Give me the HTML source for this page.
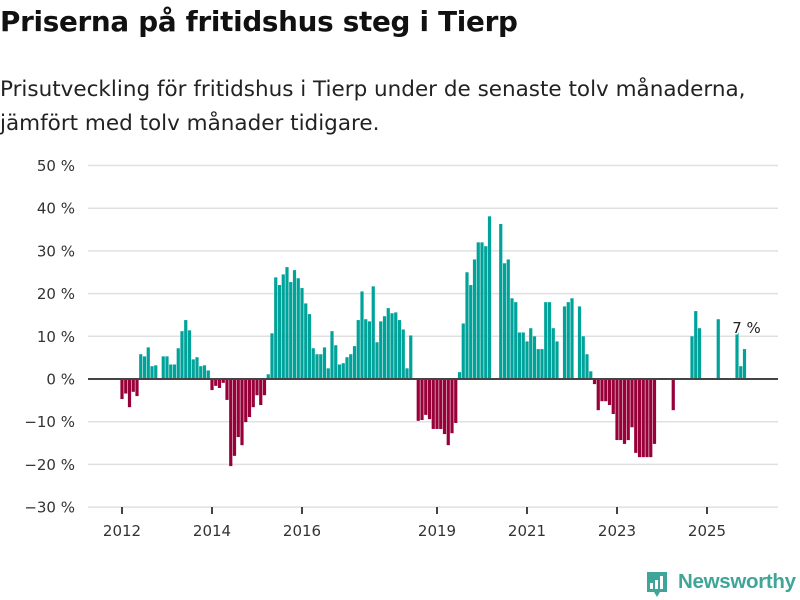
<!DOCTYPE html>
<html><head><meta charset="utf-8"><style>
body{margin:0;background:#fff;font-family:"DejaVu Sans","Liberation Sans",sans-serif;}
#wrap{position:relative;width:800px;height:600px;overflow:hidden;}
h1{position:absolute;left:0;top:5px;margin:0;font-size:27.8px;font-weight:bold;color:#111;letter-spacing:-0.3px}
p{position:absolute;left:0;top:73px;margin:0;font-size:21.5px;line-height:34px;color:#222}
</style></head><body>
<div id="wrap">
<h1>Priserna på fritidshus steg i Tierp</h1>
<p>Prisutveckling för fritidshus i Tierp under de senaste tolv månaderna,<br>jämfört med tolv månader tidigare.</p>
<svg id="chart" width="800" height="600" style="position:absolute;left:0;top:0"></svg>
</div>
<script>
const values=[-4.7,-3.4,-6.6,-3.0,-4.0,5.8,5.3,7.4,3.0,3.2,null,5.3,
5.3,3.4,3.4,7.2,11.2,13.8,11.4,4.6,5.1,3.0,3.2,2.0,
-2.6,-1.6,-2.1,-0.9,-4.9,-20.4,-18.0,-13.6,-15.5,-10.1,-8.9,-6.6,
-3.8,-6.1,-3.8,1.1,10.7,23.8,22.0,24.5,26.2,22.7,25.5,23.6,
21.3,17.7,15.2,7.2,5.8,5.8,7.4,2.5,11.2,7.9,3.4,3.7,
5.1,5.8,7.7,13.8,20.5,14.0,13.5,21.7,8.6,13.5,14.7,16.6,
15.4,15.6,13.8,11.6,2.5,10.2,null,-9.8,-9.6,-8.4,-9.4,-11.7,
-11.7,-11.7,-12.9,-15.5,-12.7,-10.3,1.6,13.0,25.0,22.0,28.0,32.0,
32.0,31.1,38.1,null,null,36.3,27.1,28.0,18.9,18.0,10.9,10.9,
8.8,11.9,10.0,7.0,7.0,18.0,18.0,11.9,8.8,null,17.0,18.0,
18.9,null,17.0,10.0,5.8,1.8,-1.2,-7.3,-5.2,-5.2,-6.1,-8.2,
-14.3,-14.3,-15.2,-14.3,-11.3,-17.3,-18.3,-18.3,-18.3,-18.3,-15.2,null,
null,null,null,-7.3,null,null,null,null,10.0,15.9,11.9,null,
null,null,null,14.0,null,null,null,null,10.9,3.0,7.0];
const startYear=2012;
const yTicks=[50,40,30,20,10,0,-10,-20,-30];
const xTickYears=[2012,2014,2016,2019,2021,2023,2025];
const lastLabel="7 %";
const NS="http://www.w3.org/2000/svg";
const svg=document.getElementById('chart');
const x0=88,x1=778;
function yScale(v){return 379-v*4.27;}
function xScale(i){return 122+i*3.75;}
function mk(t,a){const e=document.createElementNS(NS,t);for(const k in a)e.setAttribute(k,a[k]);svg.appendChild(e);return e;}
yTicks.forEach(t=>{
 const g=mk('line',{x1:x0,x2:x1,y1:yScale(t),y2:yScale(t),stroke:'#e0e0e0','stroke-width':1.5});
 
 
 const l=mk('text',{x:75,y:yScale(t)+5.5,'text-anchor':'end','font-size':15,fill:'#333','font-family':'DejaVu Sans,Liberation Sans,sans-serif'});
 l.textContent=(t<0?'\u2212'+(-t):t)+' %';
 
 
});
values.forEach((v,i)=>{
 if(v===null)return;
 const y=yScale(Math.max(v,0)),h=Math.abs(yScale(v)-yScale(0));
 const r=mk('rect',{x:xScale(i)-1.6,y:y,width:3.2,height:Math.max(h,0.5),fill:v>=0?'#00a39a':'#970038'});
 
 
});
const z=mk('line',{x1:x0,x2:x1,y1:yScale(0),y2:yScale(0),stroke:'#444','stroke-width':2});


xTickYears.forEach(yr=>{
 const x=xScale((yr-startYear)*12);
 const t=mk('line',{x1:x,x2:x,y1:507,y2:514,stroke:'#444','stroke-width':2});
 
 
 const l=mk('text',{x:x,y:536,'text-anchor':'middle','font-size':15,fill:'#333','font-family':'DejaVu Sans,Liberation Sans,sans-serif'});
 l.textContent=yr;
 
 
});
let li=values.length-1;while(values[li]===null)li--;
const lb=mk('text',{x:xScale(li)+2,y:333,'text-anchor':'middle','font-size':15,fill:'#222',stroke:'#fff','stroke-width':3,'paint-order':'stroke','font-family':'DejaVu Sans,Liberation Sans,sans-serif'});
lb.textContent=lastLabel;


</script>
<div style="position:absolute;left:645px;top:571px;height:28px;">
<svg width="24" height="26" style="position:absolute;left:0;top:1px"><path d="M2 0H22V20H15L12 25L9 20H2Z" fill="#3fa598"/><rect x="5" y="11" width="3" height="6" fill="#fff"/><rect x="10" y="8" width="3" height="9" fill="#fff"/><rect x="15" y="4" width="3" height="13" fill="#fff"/></svg>
<span style="position:absolute;left:33px;top:-1px;font-size:20.5px;font-weight:bold;letter-spacing:-0.3px;color:#3fa598;font-family:'Liberation Sans','DejaVu Sans',sans-serif;white-space:nowrap">Newsworthy</span>
</div>
</body></html>
